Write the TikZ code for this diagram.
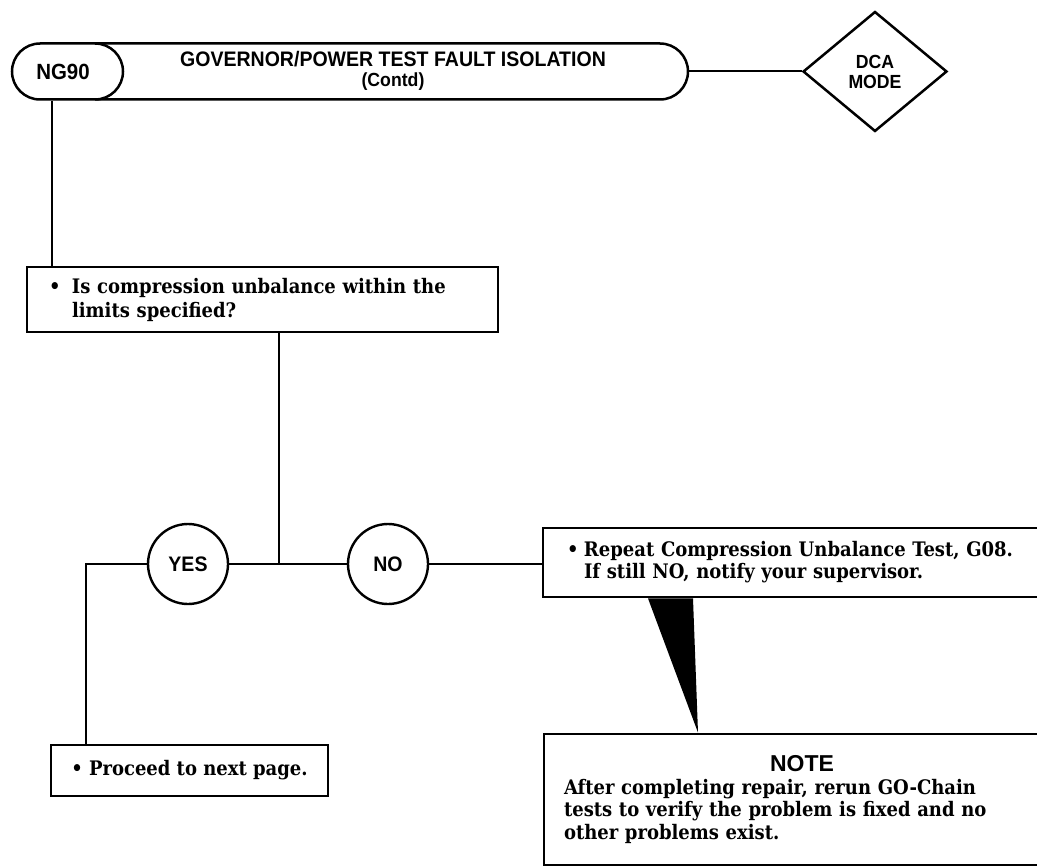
\documentclass[tikz,border=0pt]{standalone}
\usepackage{fontspec}
\setmainfont{DejaVu Serif Condensed}
\newfontfamily\hfont[FakeStretch=0.93]{Liberation Sans}
\newfontfamily\notefont{Liberation Sans}
\usetikzlibrary{shapes.geometric}
\begin{document}
\begin{tikzpicture}[x=1pt,y=-1pt,
  hdrtext/.style={font=\hfont\bfseries\fontsize{21}{20}\selectfont, inner sep=0pt, align=center},
  rbox/.style={draw, line width=2.8pt, inner sep=0pt, font=\bfseries\fontsize{20}{24}\selectfont},
  ans/.style={draw, circle, line width=2.4pt, inner sep=0pt, minimum size=80pt, font=\hfont\bfseries\fontsize{21}{21}\selectfont},
  conn/.style={line width=2pt}]
\clip (0,0) rectangle (1037,867);
\fill[white] (0,0) rectangle (1037,867);
% header
\node[draw, line width=2.5pt, rounded corners=28pt, minimum width=676pt, minimum height=56pt, inner sep=0pt] (hdr) at (350,71.5) {};
\draw[line width=2.5pt] (95,43.5) arc[start angle=-90, end angle=90, radius=28];
\node[hdrtext, font=\hfont\bfseries\fontsize{22}{20}\selectfont] (ng) at (63,71.5) {NG90};
\node[hdrtext] (title) at (393,71) {GOVERNOR/POWER TEST FAULT ISOLATION\\{\fontsize{19}{20}\selectfont(Contd)}};
\node[draw, diamond, line width=2.5pt, minimum width=144pt, minimum height=120pt, inner sep=0pt,
      font=\hfont\bfseries\fontsize{19}{20}\selectfont, align=center] (dca) at (875,71.5) {DCA\\MODE};
% boxes
\node[rbox, minimum width=471pt, minimum height=65pt, text width=427pt, align=left] (box1) at (262.5,299.5)
  {\makebox[23pt][l]{\textbullet}Is compression unbalance within the\\\hspace*{23pt}limits specified?};
\node[ans] (yes) at (188,564) {YES};
\node[ans] (no) at (388,564) {NO};
\coordinate (jn) at (279,564);
\node[rbox, minimum width=514pt, minimum height=69pt, text width=466pt, align=left, font=\bfseries\fontsize{20}{22}\selectfont] (box3) at (800,562.5)
  {\makebox[17pt][l]{\textbullet}Repeat Compression Unbalance Test, G08.\\\hspace*{17pt}If still NO, notify your supervisor.};
\node[rbox, minimum width=277pt, minimum height=51pt] (proc) at (189.5,770.5)
  {\textbullet\ Proceed to next page.};
\node[rbox, minimum width=516pt, minimum height=131pt, text width=476pt, align=left, font=\bfseries\fontsize{20}{22.5}\selectfont] (note) at (802,799.5)
  {\centering{\notefont\bfseries\fontsize{23}{26}\selectfont NOTE}\par
   \raggedright After completing repair, rerun GO-Chain\\tests to verify the problem is fixed and no\\other problems exist.};
% connectors
\coordinate (c1) at (52,0);
\coordinate (c2) at (86,0);
\draw[conn] (hdr.east) -- (dca.west);
\draw[conn] (hdr.south -| c1) -- (box1.north -| c1);
\draw[conn] (box1.south -| jn) -- (jn);
\draw[conn] (yes.east) -- (no.west);
\draw[conn] (no.east) -- (no.east -| box3.west);
\draw[conn] (yes.west) -| (proc.north -| c2);
% pointer wedge
\coordinate (w1) at (648,0);
\coordinate (w2) at (693,0);
\coordinate (w3) at (698,0);
\fill (box3.south -| w1) -- (box3.south -| w2) -- (note.north -| w3) -- cycle;
\end{tikzpicture}
\end{document}
